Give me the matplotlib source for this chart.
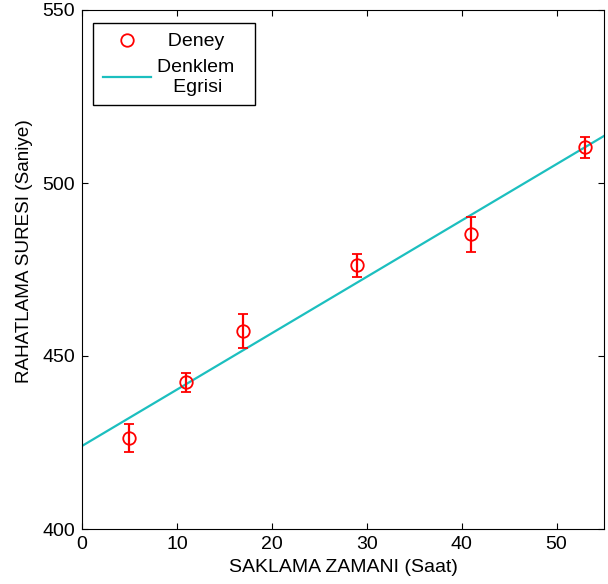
import numpy as np
import matplotlib
matplotlib.use('Agg')
import matplotlib.pyplot as plt
from matplotlib.lines import Line2D

plt.rcParams['font.family'] = ['Liberation Sans', 'DejaVu Sans']

# measured data
saat = [5, 11, 17, 29, 41, 53]
sure = [426.3, 442.4, 457.2, 476.2, 485.2, 510.3]
hata = [4.0, 2.8, 5.0, 3.3, 5.0, 3.1]
# fitted line endpoints
x_fit = [0, 55]
y_fit = [424.0, 513.6]

fig = plt.figure(figsize=(6.08, 5.84), dpi=100)
ax = fig.add_axes([82/608, 55/584, 522/608, 519/584])

ax.errorbar(saat, sure, yerr=hata, fmt='o', color='red', mfc='none', ms=9,
            mew=1.3, elinewidth=1.6, capsize=3.5, capthick=1.6, zorder=3)
ax.plot(x_fit, y_fit, color='#1cbfbf', lw=1.6)

ax.set_xlim(0, 55)
ax.set_ylim(400, 550)
ax.set_xticks([0, 10, 20, 30, 40, 50])
ax.set_yticks([400, 450, 500, 550])
ax.tick_params(direction='in', top=True, right=True, labelsize=14, length=4, pad=5)
ax.set_xlabel('SAKLAMA ZAMANI (Saat)', fontsize=14, labelpad=4)
ax.set_ylabel('RAHATLAMA SURESI (Saniye)', fontsize=13.6)
ax.yaxis.set_label_coords(-0.094, 0.535)

#legend like the matlab one: circle only for data
h1 = Line2D([], [], ls='none', marker='o', color='red', mfc='none', ms=9, mew=1.3)
h2 = Line2D([], [], color='#1cbfbf', lw=1.6)
leg = ax.legend([h1, h2], ['  Deney', 'Denklem  \n   Egrisi'], loc='upper left',
                bbox_to_anchor=(0.021, 0.975), borderaxespad=0, fontsize=14,
                fancybox=False, edgecolor='black', framealpha=1, handlelength=2.5,
                handletextpad=0.3, borderpad=0.5, labelspacing=0.45)
leg.get_frame().set_linewidth(1)

fig.savefig('out.png', dpi=100)
